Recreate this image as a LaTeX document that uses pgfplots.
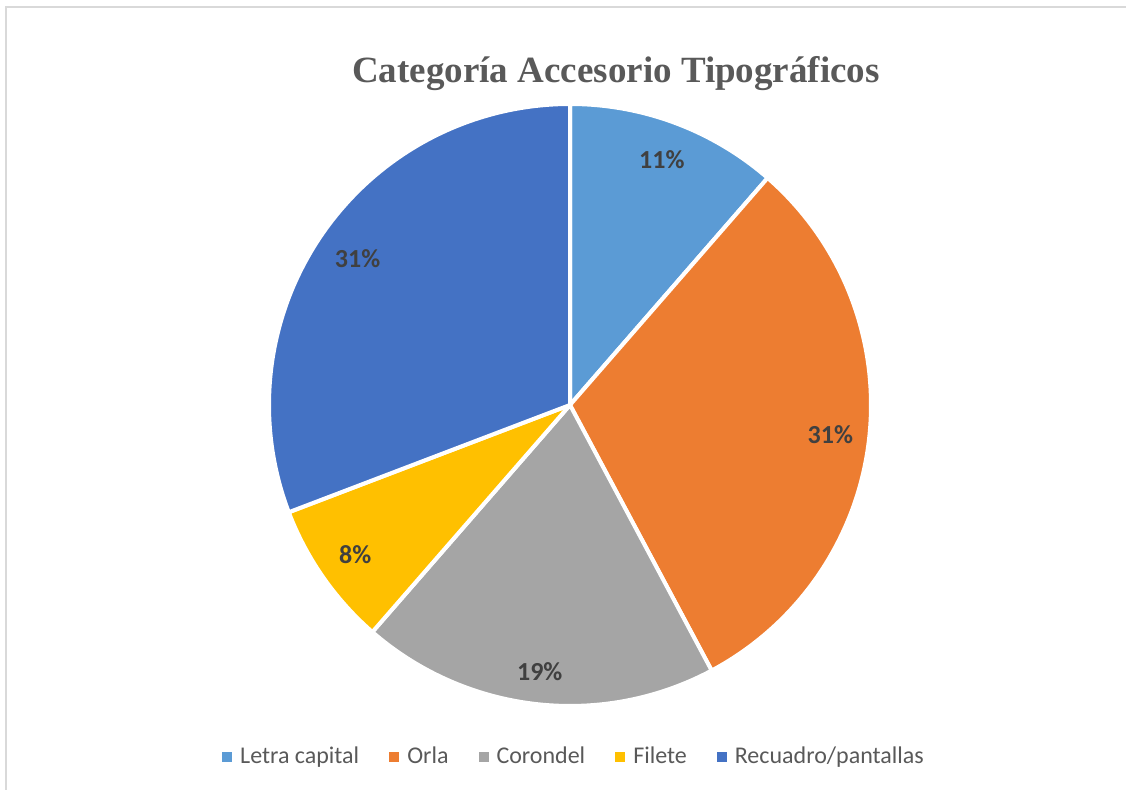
\documentclass[border=0pt]{standalone}
\usepackage{pgfplots}
\usepackage{pgfplotstable}
\pgfplotsset{compat=1.18}
\usepackage{fontspec}
\setmainfont{Carlito}
\newfontfamily\titlefont{Liberation Serif}
\definecolor{cA}{HTML}{5B9BD5}
\definecolor{cB}{HTML}{ED7D31}
\definecolor{cC}{HTML}{A5A5A5}
\definecolor{cD}{HTML}{FFC000}
\definecolor{cE}{HTML}{4472C4}
\definecolor{titlecol}{HTML}{595959}
\definecolor{labcol}{HTML}{404040}
\definecolor{bordercol}{HTML}{D9D9D9}

\pgfplotstableread{
idx value
0 11.4
1 30.8
2 19.2
3 7.8
4 30.8
}\piedata

\pgfplotstablegetelem{0}{value}\of\piedata \let\vA\pgfplotsretval
\pgfplotstablegetelem{1}{value}\of\piedata \let\vB\pgfplotsretval
\pgfplotstablegetelem{2}{value}\of\piedata \let\vC\pgfplotsretval
\pgfplotstablegetelem{3}{value}\of\piedata \let\vD\pgfplotsretval
\pgfplotstablegetelem{4}{value}\of\piedata \let\vE\pgfplotsretval
\pgfmathsetmacro\tot{\vA+\vB+\vC+\vD+\vE}
\pgfmathsetmacro\aO{90}
\pgfmathsetmacro\aA{\aO-360*\vA/\tot}
\pgfmathsetmacro\aB{\aA-360*\vB/\tot}
\pgfmathsetmacro\aC{\aB-360*\vC/\tot}
\pgfmathsetmacro\aD{\aC-360*\vD/\tot}
\pgfmathsetmacro\aE{\aD-360*\vE/\tot}
\pgfmathsetmacro\mA{(\aO+\aA)/2}
\pgfmathsetmacro\mB{(\aA+\aB)/2}
\pgfmathsetmacro\mC{(\aB+\aC)/2}
\pgfmathsetmacro\mD{(\aC+\aD)/2}
\pgfmathsetmacro\mE{(\aD+\aE)/2}
\pgfmathtruncatemacro\pA{round(100*\vA/\tot)}
\pgfmathtruncatemacro\pB{round(100*\vB/\tot)}
\pgfmathtruncatemacro\pC{round(100*\vC/\tot)}
\pgfmathtruncatemacro\pD{round(100*\vD/\tot)}
\pgfmathtruncatemacro\pE{round(100*\vE/\tot)}

\newcommand\slice[4]{%
  \addplot[fill=#1, draw=white, line width=2pt, line join=round,
    domain=#3:#2, samples=120, variable=\t]
    ({570+301*cos(\t)},{385+301*sin(\t)}) -- (570,385) -- cycle;
  \addlegendentry{#4}
}

\begin{document}
\begin{tikzpicture}
\begin{axis}[
  name=ax,
  width=563pt, height=395pt, scale only axis,
  xmin=0, xmax=1126, ymin=0, ymax=790,
  hide axis, clip=false,
  legend columns=5,
  legend style={draw=none, fill=none, at={(axis cs:575,33)}, anchor=center,
    font=\fontsize{12}{14}\selectfont, text=titlecol,
    /tikz/every odd column/.append style={column sep=2pt},
    /tikz/every even column/.append style={column sep=13pt},
    nodes={inner sep=2pt}},
  legend image code/.code={\path[#1, draw=none, line width=0pt] (0pt,-2.5pt) rectangle (5pt,2.5pt);},
]
\slice{cA}{\aO}{\aA}{Letra capital}
\slice{cB}{\aA}{\aB}{Orla}
\slice{cC}{\aB}{\aC}{Corondel}
\slice{cD}{\aC}{\aD}{Filete}
\slice{cE}{\aD}{\aE}{Recuadro/pantallas}

\node[font=\bfseries\fontsize{13}{15}\selectfont, text=labcol] at (axis cs:{570+262*cos(\mA)},{385+262*sin(\mA)}) {\pA\%};
\node[font=\bfseries\fontsize{13}{15}\selectfont, text=labcol] at (axis cs:{570+262*cos(\mB)},{385+262*sin(\mB)}) {\pB\%};
\node[font=\bfseries\fontsize{13}{15}\selectfont, text=labcol] at (axis cs:{570+268*cos(\mC)},{385+268*sin(\mC)}) {\pC\%};
\node[font=\bfseries\fontsize{13}{15}\selectfont, text=labcol] at (axis cs:{570+262*cos(\mD)},{385+262*sin(\mD)}) {\pD\%};
\node[font=\bfseries\fontsize{13}{15}\selectfont, text=labcol] at (axis cs:{570+258*cos(\mE)},{385+258*sin(\mE)}) {\pE\%};

\node[font=\titlefont\bfseries\fontsize{18.5}{22}\selectfont, text=titlecol] at (axis cs:616,716) {Categoría Accesorio Tipográficos};

\draw[bordercol, line width=1pt] (axis cs:6.5,0) -- (axis cs:6.5,782.5) -- (axis cs:1126,782.5);
\end{axis}
\pgfresetboundingbox
\path[use as bounding box] (ax.south west) rectangle (ax.north east);
\end{tikzpicture}
\end{document}
